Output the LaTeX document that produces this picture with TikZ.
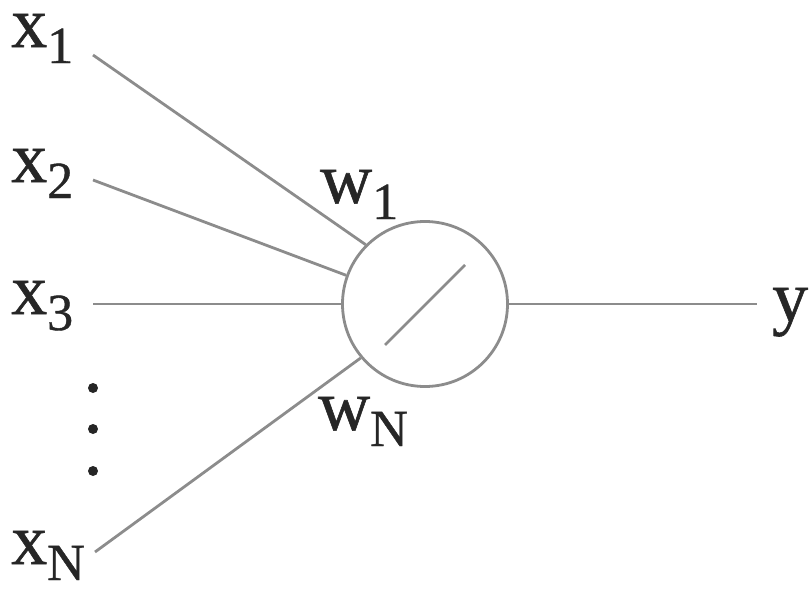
\documentclass[tikz,border=0pt]{standalone}
\usepackage{fontspec}
\setmainfont[FakeBold=0.8]{Liberation Serif}
\begin{document}
\begin{tikzpicture}[x=1pt,y=-1pt,
  wire/.style={draw=black!45, line width=2.8pt},
  lbl/.style={inner sep=0pt, anchor=base west, text=black!85,
    font=\fontsize{72}{78}\selectfont},
  dotmark/.style={circle, fill=black!85, inner sep=0pt, minimum size=10pt}]
\useasboundingbox (0,0) rectangle (809,589);
\newcommand{\sbs}[1]{\raisebox{-16pt}{\fontsize{52}{56}\selectfont #1}}
% neuron
\node[circle, draw=black!45, line width=2.8pt, minimum size=165pt, inner sep=0pt] (n) at (425,304) {};
\coordinate (d1) at (385,345);
\coordinate (d2) at (465,265);
\draw[wire] (d1) -- (d2);
% inputs
\coordinate (s1) at (93,55);
\coordinate (s2) at (93,180);
\coordinate (s3) at (93,304);
\coordinate (sN) at (95,552);
\coordinate (out) at (757,304);
\draw[wire] (s1) -- (n.135);
\draw[wire] (s2) -- (n.160);
\draw[wire] (s3) -- (n.west);
\draw[wire] (sN) -- (n.-140);
\draw[wire] (n.east) -- (out);
% labels
\node[lbl] (x1) at (11,47) {x\sbs{1}};
\node[lbl] (x2) at (11,182) {x\sbs{2}};
\node[lbl] (x3) at (11,314) {x\sbs{3}};
\node[lbl] (xN) at (11,564) {x\sbs{N}};
\node[lbl] (w1) at (320,203) {w\sbs{1}};
\node[lbl] (wN) at (318,430) {w\sbs{N}};
\node[lbl] (y) at (772,321) {y};
% dots
\node[dotmark] (p1) at (93,388) {};
\node[dotmark] (p2) at (93,429) {};
\node[dotmark] (p3) at (93,471) {};
\end{tikzpicture}
\end{document}
